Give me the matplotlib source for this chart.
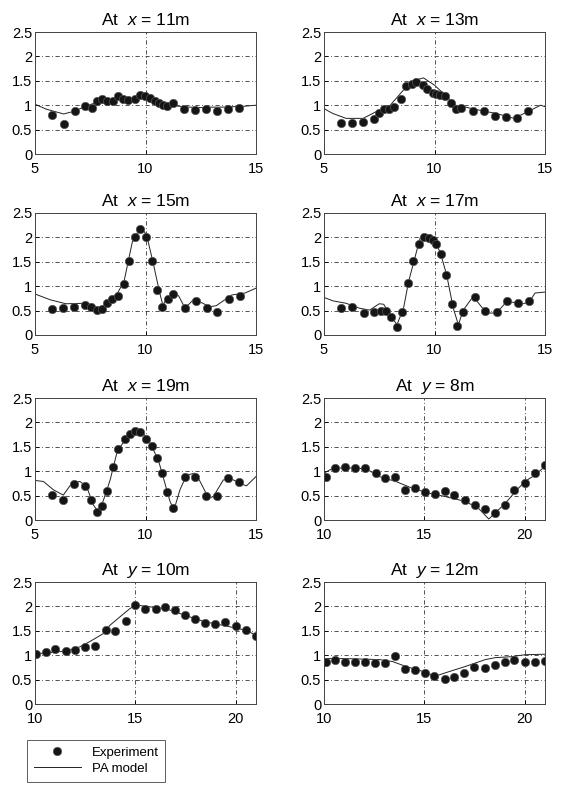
import matplotlib
matplotlib.use("Agg")
import matplotlib.pyplot as plt
import numpy as np

plt.rcParams['font.family'] = ['Liberation Sans', 'DejaVu Sans']
plt.rcParams['mathtext.fontset'] = 'custom'
plt.rcParams['mathtext.rm'] = 'Liberation Sans'
plt.rcParams['mathtext.it'] = 'Liberation Sans:italic'

# ---- data ----
titles = ["At  $x$ = 11m", "At  $x$ = 13m", "At  $x$ = 15m", "At  $x$ = 17m",
          "At  $x$ = 19m", "At  $y$ = 8m", "At  $y$ = 10m", "At  $y$ = 12m"]

# panel 1, x = 11m
exp1_x = [5.78, 6.31, 6.79, 7.26, 7.56, 7.79, 8.01, 8.27, 8.54, 8.77, 9.0, 9.22, 9.52, 9.75,
          9.98, 10.2, 10.43, 10.63, 10.81, 10.99, 11.26, 11.76, 12.26, 12.75, 13.25, 13.75, 14.25]
exp1_y = [0.80, 0.61, 0.89, 0.99, 0.95, 1.09, 1.12, 1.08, 1.08, 1.19, 1.12, 1.10, 1.12, 1.21,
          1.19, 1.14, 1.08, 1.04, 1.00, 0.98, 1.05, 0.93, 0.90, 0.93, 0.88, 0.93, 0.95]
mod1_x = [5.0, 5.5, 6.3, 6.8, 7.3, 7.8, 8.3, 8.8, 9.3, 9.8, 10.2, 10.6, 11.0, 11.5, 12.0, 12.5, 13.0, 13.5, 14.0, 14.5, 15.0]
mod1_y = [1.02, 0.92, 0.82, 0.88, 0.98, 1.06, 1.08, 1.12, 1.10, 1.16, 1.13, 1.05, 1.00, 0.98, 0.96, 0.95, 0.96, 0.96, 0.97, 0.98, 1.00]

# panel 2, x = 13m
exp2_x = [5.76, 6.28, 6.77, 7.25, 7.49, 7.72, 7.95, 8.17, 8.47, 8.73, 8.96, 9.18, 9.46, 9.68,
          9.91, 10.06, 10.24, 10.48, 10.73, 10.97, 11.22, 11.75, 12.25, 12.75, 13.25, 13.75, 14.24]
exp2_y = [0.64, 0.64, 0.66, 0.72, 0.84, 0.93, 0.93, 0.97, 1.12, 1.39, 1.44, 1.48, 1.41, 1.34,
          1.24, 1.23, 1.21, 1.19, 1.04, 0.93, 0.95, 0.89, 0.89, 0.78, 0.76, 0.74, 0.88]
mod2_x = [5.0, 5.4, 6.0, 6.77, 7.5, 8.0, 8.73, 9.2, 9.5, 10.0, 10.5, 10.95, 11.2, 12.0, 12.8, 13.6, 14.5, 14.8, 15.0]
mod2_y = [0.93, 0.83, 0.73, 0.73, 0.90, 1.00, 1.38, 1.52, 1.56, 1.41, 1.20, 1.00, 0.98, 0.90, 0.83, 0.73, 0.93, 1.00, 0.97]

# panel 3, x = 15m
exp3_x = [5.75, 6.28, 6.76, 7.26, 7.53, 7.79, 8.02, 8.27, 8.5, 8.77, 9.03, 9.27, 9.52, 9.75,
          10.02, 10.28, 10.51, 10.76, 11.0, 11.26, 11.79, 12.27, 12.77, 13.25, 13.78, 14.28]
exp3_y = [0.53, 0.55, 0.57, 0.62, 0.58, 0.51, 0.53, 0.65, 0.73, 0.80, 1.04, 1.51, 2.01, 2.18,
          2.01, 1.51, 0.93, 0.57, 0.74, 0.84, 0.55, 0.69, 0.56, 0.47, 0.74, 0.79]
mod3_x = [5.0, 5.7, 6.4, 7.2, 7.79, 8.2, 8.65, 9.03, 9.4, 9.78, 10.05, 10.33, 10.63, 10.78, 11.0,
          11.26, 11.5, 11.79, 12.16, 12.46, 12.9, 13.2, 13.9, 14.5, 15.0]
mod3_y = [0.84, 0.72, 0.64, 0.65, 0.53, 0.62, 0.79, 1.10, 1.90, 2.22, 2.05, 1.51, 0.89, 0.62, 0.75,
          0.89, 0.80, 0.55, 0.72, 0.68, 0.58, 0.60, 0.82, 0.86, 0.96]

# panel 4, x = 17m
exp4_x = [5.76, 6.28, 6.8, 7.25, 7.57, 7.8, 8.05, 8.31, 8.53, 8.78, 9.03, 9.29, 9.52, 9.74,
          9.91, 10.06, 10.29, 10.54, 10.79, 11.04, 11.3, 11.83, 12.28, 12.81, 13.29, 13.79, 14.29]
exp4_y = [0.56, 0.57, 0.46, 0.48, 0.50, 0.49, 0.36, 0.17, 0.48, 1.06, 1.52, 1.87, 2.01, 1.99,
          1.95, 1.87, 1.66, 1.22, 0.64, 0.19, 0.48, 0.77, 0.50, 0.48, 0.70, 0.65, 0.70]
mod4_x = [5.0, 5.4, 6.0, 6.6, 7.06, 7.5, 7.7, 8.0, 8.3, 8.6, 8.83, 9.35, 9.65, 9.98, 10.25, 10.55,
          10.85, 11.08, 11.3, 11.75, 12.05, 12.35, 12.8, 13.26, 13.56, 13.86, 14.29, 14.55, 15.0]
mod4_y = [0.77, 0.70, 0.65, 0.55, 0.51, 0.64, 0.63, 0.41, 0.21, 0.55, 1.10, 1.99, 2.03, 1.92, 1.71,
          1.23, 0.55, 0.21, 0.51, 0.79, 0.62, 0.45, 0.45, 0.68, 0.67, 0.62, 0.68, 0.86, 0.88]

# panel 5, x = 19m
exp5_x = [5.75, 6.28, 6.76, 7.26, 7.53, 7.79, 8.01, 8.27, 8.51, 8.77, 9.05, 9.29, 9.51, 9.74,
          10.04, 10.29, 10.52, 10.76, 10.99, 11.24, 11.77, 12.25, 12.74, 13.23, 13.75, 14.25]
exp5_y = [0.51, 0.40, 0.74, 0.70, 0.40, 0.16, 0.29, 0.59, 1.08, 1.46, 1.66, 1.77, 1.83, 1.81,
          1.65, 1.52, 1.28, 0.96, 0.58, 0.25, 0.89, 0.89, 0.50, 0.50, 0.87, 0.77]
mod5_x = [5.0, 5.38, 5.83, 6.28, 6.66, 7.03, 7.34, 7.64, 7.87, 8.1, 8.4, 8.7, 9.15, 9.53, 9.9,
          10.2, 10.58, 10.88, 11.11, 11.29, 11.56, 11.86, 12.24, 12.47, 12.85, 13.07, 13.52,
          13.82, 14.27, 14.57, 15.0]
mod5_y = [0.81, 0.79, 0.62, 0.51, 0.75, 0.79, 0.68, 0.31, 0.16, 0.41, 0.82, 1.37, 1.71, 1.85, 1.78,
          1.58, 1.23, 0.75, 0.38, 0.21, 0.62, 0.92, 0.96, 0.79, 0.45, 0.48, 0.82, 0.86, 0.75,
          0.70, 0.89]

# panel 6, y = 8m
exp6_x = [10.1, 10.57, 11.05, 11.54, 12.04, 12.58, 13.05, 13.54, 14.04, 14.53, 15.01, 15.52,
          16.0, 16.46, 17.0, 17.5, 18.0, 18.5, 19.02, 19.48, 20.0, 20.5, 21.0]
exp6_y = [0.89, 1.07, 1.09, 1.07, 1.07, 0.97, 0.87, 0.89, 0.62, 0.65, 0.58, 0.53,
          0.60, 0.51, 0.40, 0.31, 0.23, 0.14, 0.31, 0.61, 0.75, 0.96, 1.13]
mod6_x = [10.0, 10.44, 11.1, 12.1, 12.75, 13.57, 14.4, 15.22, 16.04, 17.03, 17.69, 18.2,
          19.02, 19.52, 20.0, 20.5, 21.0]
mod6_y = [0.96, 1.06, 1.07, 1.05, 0.89, 0.79, 0.65, 0.55, 0.48, 0.38, 0.24, 0.02,
          0.34, 0.58, 0.79, 0.92, 1.10]

# panel 7, y = 10m
exp7_x = [10.05, 10.53, 11.02, 11.52, 11.98, 12.51, 13.0, 13.52, 14.0, 14.51, 14.99, 15.5,
          16.0, 16.48, 16.99, 17.49, 17.98, 18.48, 18.98, 19.47, 20.0, 20.5, 20.99]
exp7_y = [1.03, 1.06, 1.12, 1.09, 1.11, 1.17, 1.19, 1.52, 1.50, 1.70, 2.03, 1.95,
          1.95, 1.99, 1.93, 1.83, 1.74, 1.66, 1.63, 1.68, 1.60, 1.52, 1.39]
mod7_x = [10.0, 10.74, 11.57, 12.23, 12.73, 13.06, 13.39, 13.72, 14.21, 14.71, 15.0, 15.55,
          16.53, 17.52, 18.51, 19.5, 20.5, 21.0]
mod7_y = [1.03, 1.05, 1.09, 1.17, 1.28, 1.36, 1.44, 1.61, 1.78, 1.95, 2.03, 2.00,
          1.95, 1.81, 1.68, 1.60, 1.51, 1.41]

# panel 8, y = 12m
exp8_x = [10.1, 10.57, 11.05, 11.54, 12.04, 12.55, 13.03, 13.54, 14.04, 14.53, 15.01, 15.5,
          16.0, 16.46, 16.99, 17.48, 17.99, 18.49, 19.02, 19.48, 20.0, 20.5, 21.0]
exp8_y = [0.87, 0.91, 0.87, 0.86, 0.86, 0.84, 0.84, 0.99, 0.72, 0.69, 0.64, 0.58,
          0.52, 0.55, 0.64, 0.75, 0.73, 0.79, 0.86, 0.91, 0.86, 0.87, 0.89]
mod8_x = [10.0, 11.1, 12.75, 13.41, 14.07, 14.9, 15.55, 16.05, 17.04, 18.03, 18.53, 19.35, 20.0, 21.0]
mod8_y = [0.93, 0.93, 0.91, 0.87, 0.77, 0.67, 0.57, 0.64, 0.77, 0.91, 0.95, 0.97, 1.01, 1.02]

exp_x = [exp1_x, exp2_x, exp3_x, exp4_x, exp5_x, exp6_x, exp7_x, exp8_x]
exp_y = [exp1_y, exp2_y, exp3_y, exp4_y, exp5_y, exp6_y, exp7_y, exp8_y]
mod_x = [mod1_x, mod2_x, mod3_x, mod4_x, mod5_x, mod6_x, mod7_x, mod8_x]
mod_y = [mod1_y, mod2_y, mod3_y, mod4_y, mod5_y, mod6_y, mod7_y, mod8_y]

x_ticks_a = [5, 10, 15]
x_ticks_b = [10, 15, 20]
y_ticks = [0, 0.5, 1, 1.5, 2, 2.5]
y_labels = ["0", "0.5", "1", "1.5", "2", "2.5"]

W, H = 563, 785
fig = plt.figure(figsize=(W / 100, H / 100), dpi=100)

# axes boxes in pixels: left, top, right, bottom
col_lr = [(35, 256), (324, 545)]
row_tb = [(32, 154), (213, 335), (398, 520), (582, 704)]

for i in range(8):
    r, c = divmod(i, 2)
    l, rr = col_lr[c]
    t, b = row_tb[r]
    ax = fig.add_axes([l / W, 1 - b / H, (rr - l) / W, (b - t) / H])

    ax.plot(mod_x[i], mod_y[i], color='#222222', lw=0.7, label='PA model')
    ax.plot(exp_x[i], exp_y[i], 'o', color='#151515', mec='#555555', mew=0.5, ms=6,
            label='Experiment', linestyle='none')

    if i < 5:
        ax.set_xlim(5, 15)
        ax.set_xticks(x_ticks_a)
    else:
        ax.set_xlim(10, 21)
        ax.set_xticks(x_ticks_b)
    ax.set_ylim(0, 2.5)
    ax.set_yticks(y_ticks)
    ax.set_yticklabels(y_labels)
    ax.grid(True, color='#333333', linestyle=(0, (5, 3, 1, 3)), linewidth=0.6)
    ax.tick_params(direction='in', length=3, labelsize=10.5, width=0.6)
    ax.tick_params(axis='y', pad=2)
    ax.tick_params(axis='x', pad=6)
    for s in ax.spines.values():
        s.set_linewidth(0.7)
        s.set_color('#444444')
    ax.set_title(titles[i], fontsize=12.5, pad=5)

    if i == 0:
        handles, labels = ax.get_legend_handles_labels()

leg = fig.legend([handles[1], handles[0]], [labels[1], labels[0]],
                 loc='upper left', bbox_to_anchor=(27 / W, 1 - 740 / H),
                 borderaxespad=0, fontsize=9.5, frameon=True, fancybox=False,
                 edgecolor='#333333', handlelength=3.6, borderpad=0.5, labelspacing=0.3)
leg.get_frame().set_linewidth(0.7)

fig.savefig('out.png', dpi=100)
